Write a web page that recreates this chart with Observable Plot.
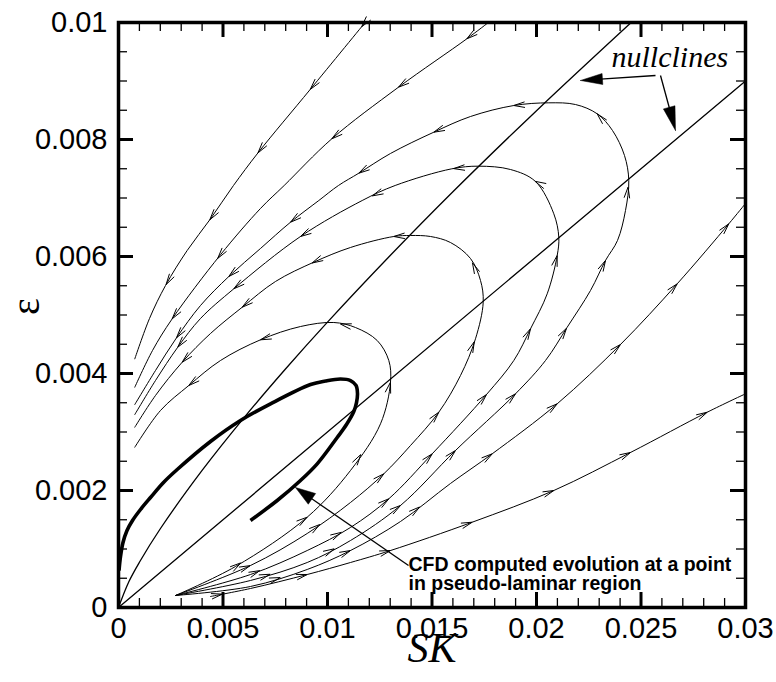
<!DOCTYPE html>
<html>
<head>
<meta charset="utf-8">
<script src="https://cdn.jsdelivr.net/npm/d3@7"></script>
<script src="https://cdn.jsdelivr.net/npm/@observablehq/plot@0.6"></script>
<style>
  html, body { margin: 0; padding: 0; background: #fff; }
  #chart svg { display: block; }
</style>
</head>
<body>
<div id="chart"></div>
<script>
// Phase plane of (SK, ε): two nullclines, trajectories with flow arrows,
// and the CFD-computed evolution at one point (thick curve).

// ---- nullclines ([SK, ε]) ----
const nullclineSteep = [[0, 0], [0.0005, 0.000444], [0.001, 0.000773], [0.002, 0.001346], [0.004, 0.002343],
  [0.006, 0.003242], [0.008, 0.004081], [0.01, 0.004878], [0.013, 0.006017], [0.016, 0.007107],
  [0.02, 0.008493], [0.02453, 0.01]];
const nullclineFlat = [[0, 0], [0.03, 0.009]];

// ---- trajectories, each listed in the direction of the flow ----
const trajL1 = [[0.01180, 0.01], [0.009172, 0.008855], [0.006699, 0.007783], [0.005502, 0.007214], [0.004402, 0.006644],
  [0.003287, 0.006103], [0.002249, 0.005504], [0.001483, 0.004940], [0.00078, 0.004251]];
const trajL2 = [[0.01770, 0.01], [0.016665, 0.009721], [0.013397, 0.008894], [0.010206, 0.008012], [0.007928, 0.007214],
  [0.006794, 0.006821], [0.004880, 0.00603], [0.002569, 0.004935], [0.001627, 0.004393], [0.00078, 0.003766]];
const orbitL3 = [[0.002727, 0.000205], [0.006316, 0.000462], [0.009029, 0.000769], [0.011100, 0.001145], [0.013493, 0.001744],
  [0.016124, 0.002684], [0.018995, 0.003653], [0.020431, 0.004222], [0.021469, 0.004791], [0.022584, 0.005419],
  [0.023301, 0.005932], [0.023876, 0.006274], [0.024258, 0.006786], [0.024416, 0.007299], [0.024211, 0.007726],
  [0.023636, 0.008154], [0.022904, 0.008439], [0.021866, 0.008598], [0.020589, 0.008627], [0.018914, 0.008581],
  [0.016842, 0.008393], [0.015086, 0.008125], [0.013014, 0.007761], [0.011498, 0.007424], [0.010526, 0.007214],
  [0.009584, 0.006957], [0.008230, 0.006586], [0.006794, 0.006137], [0.005278, 0.005658], [0.003923, 0.005162],
  [0.002775, 0.004610], [0.001770, 0.004051], [0.00078, 0.003470]];
const orbitL4 = [[0.002727, 0.000205], [0.006316, 0.000564], [0.009029, 0.000974], [0.011100, 0.001368], [0.012933, 0.001858],
  [0.015010, 0.002627], [0.017608, 0.003641], [0.018914, 0.004222], [0.019713, 0.004764], [0.020512, 0.005362],
  [0.020990, 0.006017], [0.021067, 0.006330], [0.020828, 0.006730], [0.019952, 0.007282], [0.018756, 0.007487],
  [0.017225, 0.007544], [0.015947, 0.007499], [0.013239, 0.007214], [0.011660, 0.006957], [0.008708, 0.006342],
  [0.005517, 0.005448], [0.003923, 0.004940], [0.002837, 0.004450], [0.001770, 0.003880], [0.00078, 0.003299]];
const orbitL5 = [[0.002727, 0.000205], [0.006316, 0.000718], [0.009029, 0.001265], [0.011100, 0.001795], [0.012694, 0.002285],
  [0.013971, 0.002769], [0.015325, 0.003338], [0.016364, 0.003966], [0.017081, 0.004593], [0.017450, 0.005219],
  [0.017321, 0.005590], [0.016842, 0.005966], [0.015885, 0.006239], [0.014928, 0.006342], [0.013971, 0.006359],
  [0.013172, 0.006342], [0.011100, 0.006154], [0.009344, 0.005903], [0.007512, 0.005573], [0.005919, 0.005133],
  [0.004402, 0.004684], [0.003048, 0.004193], [0.001770, 0.003624], [0.00078, 0.003082]];
const orbitL6 = [[0.002727, 0.000205], [0.005598, 0.000701], [0.009029, 0.001544], [0.011100, 0.002342], [0.012536, 0.003140],
  [0.013014, 0.003851], [0.012933, 0.004222], [0.012378, 0.004564], [0.011340, 0.004786], [0.010301, 0.004872],
  [0.008708, 0.004803], [0.006794, 0.004576], [0.004880, 0.004222], [0.003364, 0.003795], [0.002010, 0.003368],
  [0.00078, 0.002740]];
const trajR1 = [[0.002727, 0.000205], [0.006316, 0.000359], [0.009029, 0.000650], [0.011100, 0.000974], [0.013493, 0.001470],
  [0.015885, 0.002120], [0.017880, 0.002627], [0.020990, 0.003482], [0.024019, 0.004496], [0.026732, 0.005533],
  [0.029201, 0.006559], [0.03, 0.006906]];
const trajR2 = [[0.00440, 0.000188], [0.006316, 0.000325], [0.009029, 0.000564], [0.011100, 0.000769], [0.013014, 0.000974],
  [0.016923, 0.001458], [0.020828, 0.002000], [0.024498, 0.002650], [0.028167, 0.003338], [0.03, 0.003653]];

// ---- flow-arrow positions on each trajectory ----
const arrowsL1 = [[0.002344, 0.005504], [0.004354, 0.006632], [0.006651, 0.007778], [0.009187, 0.008855], [0.011675, 0.009915]];
const arrowsL2 = [[0.002569, 0.004935], [0.004880, 0.005932], [0.010206, 0.008012], [0.013397, 0.008894], [0.016665, 0.009721]];
const arrowsL3 = [[0.007273, 0.000547], [0.010383, 0.000957], [0.013493, 0.001744], [0.016124, 0.002684], [0.018995, 0.003653],
  [0.021469, 0.004764], [0.023301, 0.005932], [0.024416, 0.007185], [0.022904, 0.008439], [0.018914, 0.008581],
  [0.015086, 0.008125], [0.011498, 0.007424], [0.008230, 0.006586], [0.005278, 0.005658], [0.002775, 0.004610]];
const arrowsL4 = [[0.006794, 0.000598], [0.010766, 0.001214], [0.012933, 0.001858], [0.015010, 0.002627], [0.017608, 0.003641],
  [0.019713, 0.004764], [0.020990, 0.006017], [0.019952, 0.007299], [0.016043, 0.007499], [0.012139, 0.007043],
  [0.008708, 0.006342], [0.005517, 0.005448], [0.002837, 0.004450]];
const arrowsL5 = [[0.006316, 0.000701], [0.009665, 0.001402], [0.012694, 0.002285], [0.015325, 0.003338], [0.017081, 0.004535],
  [0.017000, 0.005903], [0.013172, 0.006342], [0.009268, 0.005886], [0.005919, 0.005133], [0.003048, 0.004193]];
const arrowsL6 = [[0.005837, 0.000769], [0.009029, 0.001544], [0.011660, 0.002598], [0.013014, 0.003851], [0.010622, 0.004850],
  [0.006794, 0.004576], [0.003364, 0.003795]];
const arrowsR1 = [[0.007751, 0.000496], [0.011100, 0.000974], [0.014354, 0.001744], [0.017880, 0.002627], [0.020990, 0.003482],
  [0.024019, 0.004496], [0.026732, 0.005533], [0.029201, 0.006559]];
const arrowsR2 = [[0.004962, 0.000234], [0.009029, 0.000564], [0.013014, 0.000974], [0.016923, 0.001458], [0.020828, 0.002000],
  [0.024498, 0.002650], [0.028167, 0.003338]];

// ---- CFD computed evolution (thick curve) ----
const cfdPath = [[0.000024, 0.000632], [0.000096, 0.000872], [0.000215, 0.001111], [0.000407, 0.001316], [0.00067, 0.001487],
  [0.001053, 0.001675], [0.001531, 0.00188], [0.002153, 0.002137], [0.002809, 0.002359], [0.004402, 0.002838],
  [0.005837, 0.003197], [0.007273, 0.003482], [0.009187, 0.003812], [0.009904, 0.003872], [0.010622, 0.003906],
  [0.011100, 0.003880], [0.011364, 0.003795], [0.011435, 0.003658], [0.011388, 0.003504], [0.011258, 0.003350],
  [0.010909, 0.003128], [0.010464, 0.002906], [0.009507, 0.002456], [0.008708, 0.002171], [0.007593, 0.001829],
  [0.006316, 0.001487]];

// ---- annotations ----
const nullclineLabel = {sk: 0.02359, eps: 0.0094, text: "nullclines"};
const nullclinePointers = [
  {from: [0.025694, 0.009094], to: [0.022105, 0.009009], head: 22, half: 5.5},
  {from: [0.025933, 0.009094], to: [0.026651, 0.008154], head: 24, half: 6}
];
const cfdLines = [
  {sk: 0.013876, eps: 0.000725, text: "CFD computed evolution at a point"},
  {sk: 0.013876, eps: 0.000400, text: "in pseudo-laminar region"}
];
const cfdPointer = {from: [0.013876, 0.000718], to: [0.008469, 0.002051], head: 20, half: 6.5};

// ---- axes ----
const xMajor = [0, 0.005, 0.01, 0.015, 0.02, 0.025, 0.03];
const xLabels = ["0", "0.005", "0.01", "0.015", "0.02", "0.025", "0.03"];
const yMajor = [0, 0.002, 0.004, 0.006, 0.008, 0.01];
const yLabels = ["0", "0.002", "0.004", "0.006", "0.008", "0.01"];
const xMinor = d3.range(1, 30).filter(i => i % 5 !== 0).map(i => i / 1000);
const yMinor = d3.range(1, 20).filter(i => i % 4 !== 0).map(i => i / 2000);

const W = 776, H = 682;
const xDomain = [0, 0.03], yDomain = [0, 0.01];
const layout = {
  width: W, height: H,
  marginTop: 22, marginRight: 31, marginBottom: 75, marginLeft: 118,
  x: {domain: xDomain, axis: null},
  y: {domain: yDomain, axis: null},
  style: {fontFamily: "'Liberation Sans', Arial, sans-serif", background: "#fff", color: "#000", overflow: "visible"}
};

// Resolve the position scales once so that arrowheads and ticks can be sized in pixels.
const probe = Plot.plot({...layout, marks: [Plot.line(nullclineFlat, {x: d => d[0], y: d => d[1]})]});
const sx = probe.scale("x"), sy = probe.scale("y");
const px = d3.scaleLinear(sx.domain, sx.range);
const py = d3.scaleLinear(sy.domain, sy.range);

// n pixels expressed in data units, for inward tick lengths
const [xLo, xHi] = xDomain, [yLo, yHi] = yDomain;
const dyPx = n => py.invert(py(yLo) - n) - yLo;
const dxPx = n => px.invert(px(xLo) + n) - xLo;

// Open chevrons placed on a trajectory, pointing along the flow.
function chevrons(path, spots, len = 11, half = 2.8) {
  const P = path.map(([a, b]) => [px(a), py(b)]);
  const out = [];
  for (const [a, b] of spots) {
    const q = [px(a), py(b)];
    let best = null;
    for (let i = 0; i < P.length - 1; i++) {
      const [xa, ya] = P[i], [xb, yb] = P[i + 1];
      const dx = xb - xa, dy = yb - ya, L2 = dx * dx + dy * dy;
      if (!L2) continue;
      let t = ((q[0] - xa) * dx + (q[1] - ya) * dy) / L2;
      t = Math.max(0, Math.min(1, t));
      const cx = xa + t * dx, cy = ya + t * dy;
      const d2 = (q[0] - cx) ** 2 + (q[1] - cy) ** 2;
      if (!best || d2 < best.d2) best = {d2, cx, cy, ux: dx / Math.sqrt(L2), uy: dy / Math.sqrt(L2)};
    }
    const {cx, cy, ux, uy} = best, nx = -uy, ny = ux;
    for (const s of [1, -1]) {
      out.push({
        x1: px.invert(cx), y1: py.invert(cy),
        x2: px.invert(cx - len * ux + s * half * nx), y2: py.invert(cy - len * uy + s * half * ny)
      });
    }
  }
  return out;
}

// Pointer with a filled triangular head.
function pointer(p, id) {
  const S = [px(p.from[0]), py(p.from[1])], T = [px(p.to[0]), py(p.to[1])];
  const dx = T[0] - S[0], dy = T[1] - S[1], L = Math.hypot(dx, dy);
  const ux = dx / L, uy = dy / L, nx = -uy, ny = ux;
  const B = [T[0] - p.head * ux, T[1] - p.head * uy];
  const tri = [T, [B[0] + p.half * nx, B[1] + p.half * ny], [B[0] - p.half * nx, B[1] - p.half * ny], T]
    .map(([u, v]) => ({x: px.invert(u), y: py.invert(v), id}));
  const shaft = {x1: p.from[0], y1: p.from[1], x2: px.invert(B[0] + 2 * ux), y2: py.invert(B[1] + 2 * uy)};
  return {tri, shaft};
}

const trajectories = [
  [trajL1, arrowsL1], [trajL2, arrowsL2], [orbitL3, arrowsL3], [orbitL4, arrowsL4],
  [orbitL5, arrowsL5], [orbitL6, arrowsL6], [trajR1, arrowsR1], [trajR2, arrowsR2]
];
const barbs = trajectories.flatMap(([path, spots]) => chevrons(path, spots));
const pointers = [...nullclinePointers, cfdPointer].map((p, i) => pointer(p, i));

const XY = {x: d => d[0], y: d => d[1]};
const SEG = {x1: "x1", y1: "y1", x2: "x2", y2: "y2", stroke: "#000"};
const thin = {...XY, stroke: "#000", strokeWidth: 1, curve: "catmull-rom", clip: true};
const serif = "'Liberation Serif', 'Times New Roman', serif";
const MAJ = 15, MIN = 9;

const chart = Plot.plot({
  ...layout,
  marks: [
    Plot.line(nullclineSteep, {...XY, stroke: "#000", strokeWidth: 1.3, curve: "catmull-rom", clip: true}),
    Plot.line(nullclineFlat, {...XY, stroke: "#000", strokeWidth: 1.3}),
    ...trajectories.map(([path]) => Plot.line(path, thin)),
    Plot.link(barbs, {...SEG, strokeWidth: 1}),
    Plot.line(cfdPath, {...XY, stroke: "#000", strokeWidth: 3.6, curve: "catmull-rom", strokeLinecap: "butt", clip: true}),
    Plot.link(pointers.map(p => p.shaft), {...SEG, strokeWidth: 1.3}),
    Plot.line(pointers.flatMap(p => p.tri), {x: "x", y: "y", z: "id", fill: "#000", stroke: "#000", strokeWidth: 0.5}),
    // annotations
    Plot.text([nullclineLabel], {x: "sk", y: "eps", text: "text", textAnchor: "start", fontSize: 30,
      fontStyle: "italic", fontFamily: serif}),
    Plot.text(cfdLines, {x: "sk", y: "eps", text: "text", textAnchor: "start", fontSize: 19.5, fontWeight: "bold"}),
    // ticks on all four sides, pointing inward
    Plot.ruleX(xMajor, {y1: yLo, y2: yLo + dyPx(MAJ), stroke: "#000", strokeWidth: 3}),
    Plot.ruleX(xMajor, {y1: yHi, y2: yHi - dyPx(MAJ), stroke: "#000", strokeWidth: 3}),
    Plot.ruleX(xMinor, {y1: yLo, y2: yLo + dyPx(MIN), stroke: "#000", strokeWidth: 1.3}),
    Plot.ruleX(xMinor, {y1: yHi, y2: yHi - dyPx(MIN), stroke: "#000", strokeWidth: 1.3}),
    Plot.ruleY(yMajor, {x1: xLo, x2: xLo + dxPx(MAJ), stroke: "#000", strokeWidth: 3}),
    Plot.ruleY(yMajor, {x1: xHi, x2: xHi - dxPx(MAJ), stroke: "#000", strokeWidth: 3}),
    Plot.ruleY(yMinor, {x1: xLo, x2: xLo + dxPx(MIN), stroke: "#000", strokeWidth: 1.3}),
    Plot.ruleY(yMinor, {x1: xHi, x2: xHi - dxPx(MIN), stroke: "#000", strokeWidth: 1.3}),
    // tick labels
    Plot.text(xMajor, {x: d => d, y: yLo, text: (d, i) => xLabels[i], lineAnchor: "top", dy: 10, fontSize: 29}),
    Plot.text(yMajor, {x: xLo, y: d => d, text: (d, i) => yLabels[i], textAnchor: "end", dx: -11, fontSize: 29}),
    // axis titles
    Plot.text(["SK"], {frameAnchor: "bottom", dy: 54, fontSize: 42, fontStyle: "italic", fontFamily: serif}),
    Plot.text(["ε"], {frameAnchor: "left", dx: -92, rotate: -90, fontSize: 40, fontFamily: serif}),
    Plot.frame({stroke: "#000", strokeWidth: 3.5})
  ]
});

document.getElementById("chart").append(chart);
</script>
</body>
</html>
